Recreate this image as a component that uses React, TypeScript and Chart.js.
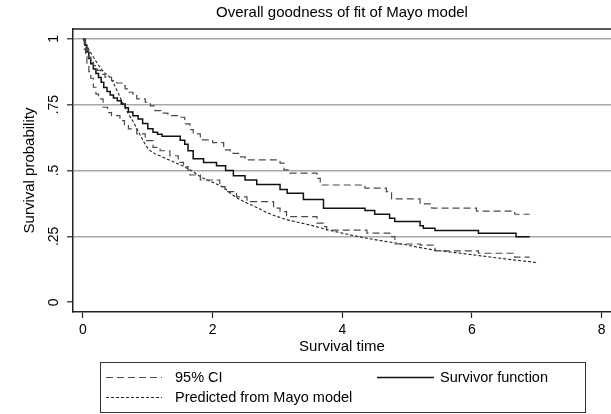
import React, { useEffect, useRef } from "react";
import { Chart, registerables } from "chart.js";

Chart.register(...registerables);

const chartTitle = "Overall goodness of fit of Mayo model";
const xAxisTitle = "Survival time";
const yAxisTitle = "Survival probability";
const xTickValues = [0, 2, 4, 6, 8];
const xTickLabels = ["0", "2", "4", "6", "8"];
const yTickValues = [0, 0.25, 0.5, 0.75, 1];
const yTickLabels = ["0", ".25", ".5", ".75", "1"];
const legendLabels = ["95% CI", "Survivor function", "Predicted from Mayo model"];

// Kaplan-Meier survivor function
const kmTime = [0, 0.03, 0.06, 0.09, 0.12, 0.16, 0.2, 0.24, 0.28, 0.32, 0.37, 0.42, 0.47, 0.53, 0.59, 0.65, 0.7, 0.77, 0.85, 0.92, 1.0, 1.08, 1.15, 1.22, 1.5, 1.57, 1.62, 1.7, 1.86, 2.06, 2.2, 2.32, 2.5, 2.68, 3.04, 3.15, 3.4, 3.71, 4.35, 4.5, 4.73, 4.81, 5.2, 5.25, 5.43, 6.1, 6.68, 6.89];
const kmSurv = [1, 0.975, 0.95, 0.925, 0.905, 0.885, 0.868, 0.853, 0.835, 0.815, 0.8, 0.787, 0.775, 0.765, 0.752, 0.738, 0.722, 0.708, 0.695, 0.678, 0.658, 0.645, 0.638, 0.63, 0.615, 0.6, 0.575, 0.545, 0.53, 0.518, 0.5, 0.48, 0.464, 0.447, 0.428, 0.414, 0.39, 0.357, 0.348, 0.334, 0.319, 0.306, 0.29, 0.281, 0.272, 0.262, 0.249, 0.249];

// Upper 95% CI
const upperTime = [0, 0.04, 0.08, 0.12, 0.16, 0.22, 0.28, 0.34, 0.44, 0.52, 0.6, 0.65, 0.7, 0.77, 0.83, 0.96, 1.04, 1.11, 1.2, 1.31, 1.47, 1.57, 1.65, 1.7, 1.81, 2.0, 2.17, 2.27, 2.4, 2.5, 3.04, 3.1, 3.19, 3.61, 3.66, 4.35, 4.68, 4.76, 5.2, 5.38, 6.07, 6.66, 6.89];
const upperSurv = [1, 0.96, 0.93, 0.91, 0.898, 0.88, 0.865, 0.854, 0.841, 0.832, 0.822, 0.81, 0.797, 0.784, 0.772, 0.759, 0.745, 0.727, 0.718, 0.708, 0.702, 0.677, 0.655, 0.639, 0.616, 0.606, 0.578, 0.565, 0.552, 0.54, 0.528, 0.502, 0.49, 0.47, 0.445, 0.433, 0.42, 0.392, 0.373, 0.357, 0.346, 0.334, 0.334];

// Lower 95% CI
const lowerTime = [0, 0.02, 0.04, 0.06, 0.09, 0.12, 0.16, 0.2, 0.24, 0.31, 0.38, 0.44, 0.57, 0.64, 0.7, 0.83, 0.96, 1.08, 1.19, 1.34, 1.47, 1.55, 1.62, 1.65, 1.81, 2.11, 2.19, 2.37, 2.53, 2.94, 3.04, 3.14, 3.61, 3.71, 3.76, 4.38, 4.73, 4.81, 5.2, 5.43, 6.1, 6.66, 6.89];
const lowerSurv = [1, 0.96, 0.93, 0.9, 0.875, 0.85, 0.816, 0.79, 0.772, 0.74, 0.72, 0.708, 0.689, 0.67, 0.658, 0.639, 0.613, 0.588, 0.575, 0.556, 0.531, 0.515, 0.5, 0.483, 0.464, 0.439, 0.42, 0.4, 0.382, 0.357, 0.344, 0.325, 0.3, 0.287, 0.274, 0.262, 0.249, 0.221, 0.217, 0.195, 0.186, 0.171, 0.171];

// Predicted from Mayo model
const predTime = [0, 0.1, 0.2, 0.3, 0.44, 0.55, 0.62, 0.7, 0.775, 0.9, 1.0, 1.1, 1.21, 1.35, 1.47, 1.67, 1.81, 2.0, 2.17, 2.32, 2.5, 2.68, 2.84, 3.0, 3.14, 3.5, 3.86, 4.38, 4.89, 5.4, 5.92, 6.43, 7.02];
const predSurv = [1, 0.955, 0.915, 0.88, 0.845, 0.79, 0.753, 0.715, 0.685, 0.626, 0.585, 0.565, 0.553, 0.538, 0.525, 0.5, 0.477, 0.455, 0.435, 0.405, 0.38, 0.36, 0.34, 0.325, 0.314, 0.293, 0.27, 0.243, 0.222, 0.199, 0.183, 0.167, 0.15];

const FONT = '"Liberation Sans", Arial, sans-serif';

const toPoints = (xs: number[], ys: number[]) => xs.map((x, i) => ({ x, y: ys[i] }));

const CI_COLOR = "#4a4a4a";
const CI_DASH = [7, 4];
const KM_COLOR = "#111111";
const PRED_COLOR = "#222222";
const PRED_DASH = [3, 2];

const frameAndLabelsPlugin = {
  id: "frameAndLabels",
  afterDraw(chart: any) {
    const ctx = chart.ctx;
    const area = chart.chartArea;
    const ys = chart.scales.y;
    ctx.save();
    // title centred over the plot region
    ctx.font = `15px ${FONT}`;
    ctx.fillStyle = "#000";
    ctx.textAlign = "center";
    ctx.textBaseline = "middle";
    ctx.fillText(chartTitle, (area.left + area.right) / 2, 13);
    // top frame line
    ctx.strokeStyle = "#222";
    ctx.lineWidth = 1.5;
    ctx.beginPath();
    ctx.moveTo(area.left, area.top);
    ctx.lineTo(area.right, area.top);
    ctx.stroke();
    // rotated y tick labels
    ctx.font = `14px ${FONT}`;
    ys.ticks.forEach((t: any, i: number) => {
      const py = ys.getPixelForTick(i);
      ctx.save();
      ctx.translate(area.left - 19, py);
      ctx.rotate(-Math.PI / 2);
      ctx.fillText(String(t.label), 0, 0);
      ctx.restore();
    });
    // legend
    const H = chart.height;
    const bx = 100.5, by = H - 51.5, bw = 485, bh = 50;
    ctx.strokeStyle = "#333";
    ctx.lineWidth = 1;
    ctx.strokeRect(bx, by, bw, bh);
    const row1 = by + 15;
    const row2 = by + 35;
    const drawSample = (x1: number, x2: number, y: number, color: string, dash: number[], lw: number) => {
      ctx.save();
      ctx.strokeStyle = color;
      ctx.lineWidth = lw;
      ctx.setLineDash(dash);
      ctx.beginPath();
      ctx.moveTo(x1, y);
      ctx.lineTo(x2, y);
      ctx.stroke();
      ctx.restore();
    };
    ctx.font = `14.5px ${FONT}`;
    ctx.textAlign = "left";
    ctx.textBaseline = "middle";
    drawSample(106, 162, row1, CI_COLOR, CI_DASH, 1.2);
    ctx.fillText(legendLabels[0], 175, row1);
    drawSample(377, 434, row1, KM_COLOR, [], 1.5);
    ctx.fillText(legendLabels[1], 440, row1);
    drawSample(106, 162, row2, PRED_COLOR, PRED_DASH, 1.1);
    ctx.fillText(legendLabels[2], 175, row2);
    ctx.restore();
  },
};

export default function App() {
  const ref = useRef<HTMLCanvasElement | null>(null);
  useEffect(() => {
    document.body.style.margin = "0";
    const canvas = ref.current;
    if (!canvas) return;
    const chart = new Chart(canvas, {
      type: "line",
      data: {
        datasets: [
          {
            label: "Upper CI",
            data: toPoints(upperTime, upperSurv),
            borderColor: CI_COLOR,
            borderWidth: 1.2,
            borderDash: CI_DASH,
            stepped: "before",
            pointRadius: 0,
            fill: false,
          },
          {
            label: "Lower CI",
            data: toPoints(lowerTime, lowerSurv),
            borderColor: CI_COLOR,
            borderWidth: 1.2,
            borderDash: CI_DASH,
            stepped: "before",
            pointRadius: 0,
            fill: false,
          },
          {
            label: "Predicted from Mayo model",
            data: toPoints(predTime, predSurv),
            borderColor: PRED_COLOR,
            borderWidth: 1.1,
            borderDash: PRED_DASH,
            cubicInterpolationMode: "monotone",
            pointRadius: 0,
            fill: false,
          },
          {
            label: "Survivor function",
            data: toPoints(kmTime, kmSurv),
            borderColor: KM_COLOR,
            borderWidth: 1.5,
            stepped: "before",
            pointRadius: 0,
            fill: false,
          },
        ],
      },
      options: {
        responsive: false,
        animation: false,
        layout: { padding: { left: 0, right: 0, top: 29, bottom: 54 } },
        plugins: {
          legend: { display: false },
          tooltip: { enabled: false },
          title: { display: false },
        },
        scales: {
          x: {
            type: "linear",
            min: -0.154,
            max: 8.145,
            afterBuildTicks: (s: any) => {
              s.ticks = xTickValues.map((v) => ({ value: v }));
            },
            afterFit: (s: any) => {
              s.height = 48;
            },
            ticks: {
              callback: (v: any) => xTickLabels[xTickValues.indexOf(Number(v))] ?? "",
              color: "#000",
              font: { family: FONT, size: 14 },
              padding: 4,
              maxRotation: 0,
              autoSkip: false,
            },
            grid: {
              drawOnChartArea: false,
              tickLength: 6,
              tickColor: "#222",
              tickWidth: 1.2,
            },
            border: { color: "#222", width: 1.5 },
            title: {
              display: true,
              text: xAxisTitle,
              color: "#000",
              font: { family: FONT, size: 15 },
              padding: { top: 0, bottom: 4 },
            },
          },
          y: {
            type: "linear",
            min: -0.037,
            max: 1.037,
            afterBuildTicks: (s: any) => {
              s.ticks = yTickValues.map((v) => ({ value: v }));
            },
            afterFit: (s: any) => {
              s.width = 73;
            },
            ticks: {
              display: false,
              callback: (v: any) => yTickLabels[yTickValues.indexOf(Number(v))] ?? "",
            },
            grid: {
              color: (c: any) => (c.tick && c.tick.value === 0 ? "rgba(0,0,0,0)" : "#a8a8a8"),
              lineWidth: 1.6,
              tickLength: 6,
              tickColor: "#222",
              tickWidth: 1.2,
            },
            border: { color: "#222", width: 1.5 },
            title: {
              display: true,
              text: yAxisTitle,
              color: "#000",
              font: { family: FONT, size: 15 },
              padding: { top: 21, bottom: 0 },
            },
          },
        },
      },
      plugins: [frameAndLabelsPlugin],
    } as any);
    return () => chart.destroy();
  }, []);
  return (
    <div style={{ position: "fixed", left: 0, top: 0, width: 611, height: 414, background: "#fff" }}>
      <canvas ref={ref} width={611} height={414} />
    </div>
  );
}
